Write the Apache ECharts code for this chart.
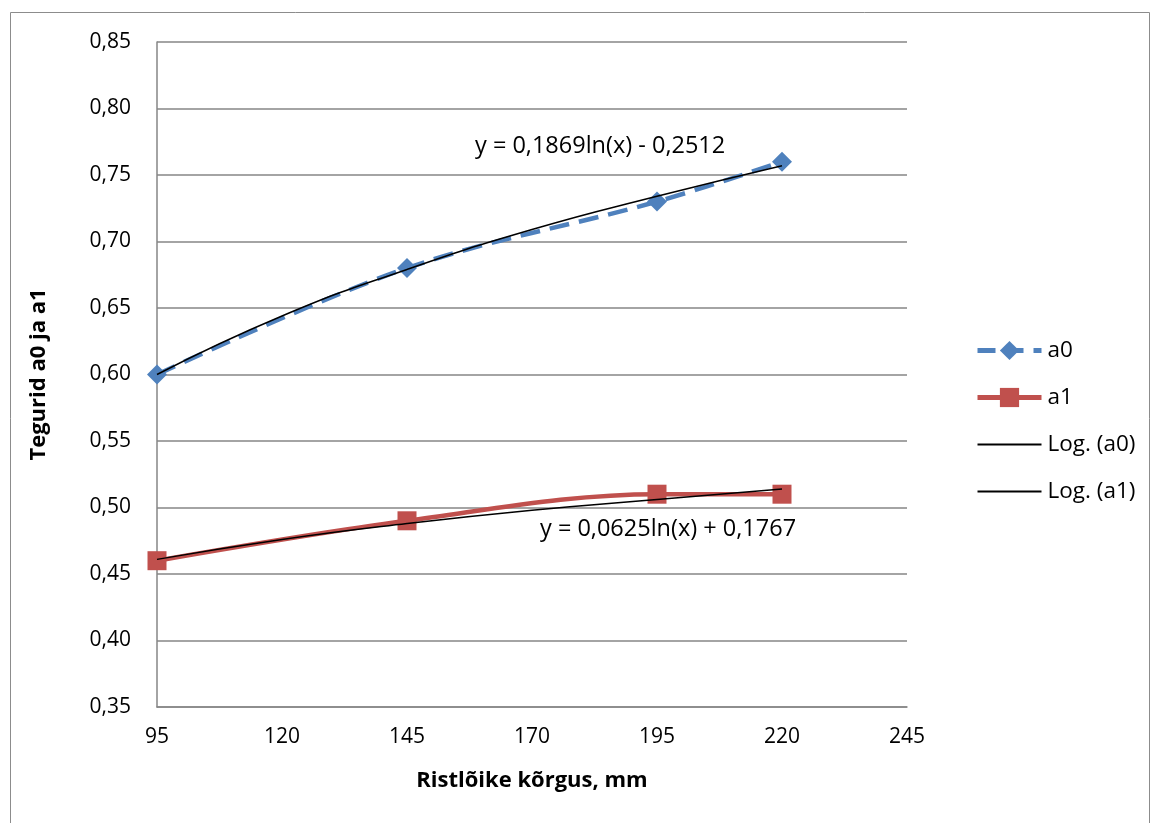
<!DOCTYPE html>
<html><head><meta charset="utf-8">
<script src="https://cdn.jsdelivr.net/npm/echarts@6/dist/echarts.min.js"></script>
<style>html,body{margin:0;padding:0;background:#fff}#c{width:1154px;height:823px}</style>
</head><body><div id="c"></div>
<script>
const xA = [95, 145, 195, 220];
const a0 = [0.60, 0.68, 0.73, 0.76];
const a1 = [0.46, 0.49, 0.51, 0.51];
// trendline values
const xTrend = [95, 120, 145, 170, 195, 220];
const logA0 = [0.600, 0.644, 0.679, 0.709, 0.734, 0.757];
const logA1 = [0.461, 0.476, 0.488, 0.498, 0.506, 0.514];
const eqA0 = 'y = 0,1869ln(x) - 0,2512';
const eqA1 = 'y = 0,0625ln(x) + 0,1767';
const FONT = '"Open Sans", "Noto Sans", sans-serif';
const zip = (xs, ys) => xs.map((x, i) => [x, ys[i]]);
const hidden = {color: 'rgba(0,0,0,0)', borderColor: 'rgba(0,0,0,0)', borderWidth: 0};
const chart = echarts.init(document.getElementById('c'), null, {renderer: 'canvas'});
chart.setOption({
  animation: false,
  backgroundColor: '#fff',
  graphic: [
    {type: 'rect', shape: {x: 10.5, y: 12.5, width: 1139, height: 830}, style: {fill: 'none', stroke: '#8c8c8c', lineWidth: 1}, silent: true},
    {type: 'text', left: 475, top: 134, style: {text: eqA0, font: '23.5px ' + FONT, fill: '#000'}},
    {type: 'text', left: 540, top: 517, style: {text: eqA1, font: '23.5px ' + FONT, fill: '#000'}}
  ],
  grid: {left: 157, top: 42, right: 247, bottom: 116, containLabel: false},
  legend: {
    orient: 'vertical', left: 970, top: 334, itemGap: 24, itemWidth: 64, itemHeight: 24,
    textStyle: {fontFamily: FONT, fontSize: 22.5, color: '#000', padding: [0, 0, 0, 1]},
    data: [
      {name: 'a0', lineStyle: {width: 5, type: [18, 10]}},
      {name: 'a1', lineStyle: {width: 5}},
      {name: 'Log. (a0)', itemStyle: hidden, lineStyle: {width: 2}},
      {name: 'Log. (a1)', itemStyle: hidden, lineStyle: {width: 2}}
    ]
  },
  xAxis: {
    type: 'value', min: 95, max: 245, interval: 25,
    name: 'Ristlõike kõrgus, mm', nameLocation: 'middle', nameGap: 63,
    nameTextStyle: {fontFamily: FONT, fontSize: 22, fontWeight: 'bold', color: '#000'},
    axisLine: {show: true, lineStyle: {color: '#868686', width: 1.5}},
    axisTick: {show: false},
    splitLine: {show: false},
    axisLabel: {margin: 20, fontFamily: FONT, fontSize: 21, color: '#000'}
  },
  yAxis: {
    type: 'value', min: 0.35, max: 0.85, interval: 0.05,
    name: 'Tegurid a0 ja a1', nameLocation: 'middle', nameGap: 107, nameRotate: 90,
    nameTextStyle: {fontFamily: FONT, fontSize: 22, fontWeight: 'bold', color: '#000'},
    axisLine: {show: true, lineStyle: {color: '#868686', width: 1.5}},
    axisTick: {show: false},
    splitLine: {show: true, lineStyle: {color: '#868686', width: 1.5}},
    axisLabel: {margin: 26, fontFamily: FONT, fontSize: 21, color: '#000',
      formatter: v => v.toFixed(2).replace('.', ',')}
  },
  series: [
    {name: 'a0', type: 'line', data: zip(xA, a0), smooth: 0.35, symbol: 'diamond', symbolSize: 20,
      lineStyle: {color: '#4F81BD', width: 4.5, type: [20, 10]}, itemStyle: {color: '#4F81BD'}, z: 3},
    {name: 'a1', type: 'line', data: zip(xA, a1), smooth: 0.35, symbol: 'rect', symbolSize: 19,
      lineStyle: {color: '#C0504D', width: 4.5}, itemStyle: {color: '#C0504D'}, z: 3},
    {name: 'Log. (a0)', type: 'line', data: zip(xTrend, logA0), smooth: true, symbol: 'none',
      lineStyle: {color: '#000', width: 1.5}, itemStyle: {color: '#000'}, z: 4},
    {name: 'Log. (a1)', type: 'line', data: zip(xTrend, logA1), smooth: true, symbol: 'none',
      lineStyle: {color: '#000', width: 1.5}, itemStyle: {color: '#000'}, z: 4}
  ]
});
</script></body></html>
